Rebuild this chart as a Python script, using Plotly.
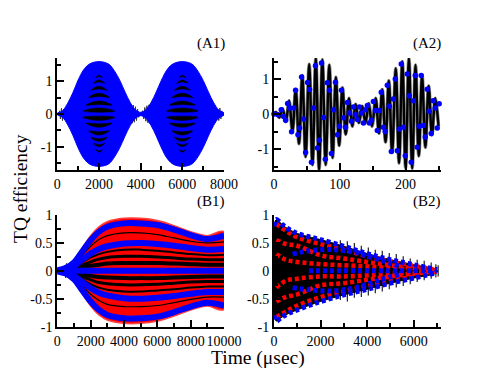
import plotly.graph_objects as go

# ---------------- panel A1 ----------------
a1_x = [0, 250, 500, 750, 1000, 1250, 1500, 1750, 2000, 2250, 2500, 2750, 3000, 3250, 3500, 3750, 4000,
        4250, 4500, 4750, 5000, 5250, 5500, 5750, 6000, 6250, 6500, 6750, 7000, 7250, 7500, 7750, 8000]
a1_upper = [0.03, 0.1, 0.33, 0.65, 1.03, 1.33, 1.5, 1.57, 1.59, 1.57, 1.5, 1.3, 1.02, 0.67, 0.35, 0.13, 0.05,
            0.13, 0.35, 0.67, 1.03, 1.33, 1.5, 1.57, 1.59, 1.57, 1.5, 1.3, 1.02, 0.67, 0.35, 0.12, 0.03]
a1_lower = [-0.03, -0.1, -0.33, -0.65, -1.03, -1.33, -1.5, -1.57, -1.59, -1.57, -1.5, -1.3, -1.02, -0.67, -0.35, -0.13, -0.05,
            -0.13, -0.35, -0.67, -1.03, -1.33, -1.5, -1.57, -1.59, -1.57, -1.5, -1.3, -1.02, -0.67, -0.35, -0.12, -0.03]
a1_noise_x = [100, 150, 200, 250, 300, 350, None,
              3550, 3600, 3650, 3700, 3750, 3800, 3850, 3900, 4100, 4150, 4200, 4250, 4300, 4350, 4400, 4450, None,
              7650, 7700, 7750, 7800, 7850, 7900]
a1_noise_y = [0.1, -0.15, 0.18, -0.2, 0.15, -0.1, None,
              0.3, -0.28, 0.27, -0.25, 0.22, -0.2, 0.15, -0.1, 0.1, -0.15, 0.2, -0.22, 0.25, -0.27, 0.28, -0.3, None,
              -0.1, 0.15, -0.2, 0.18, -0.15, 0.1]
a1_stripe_centre = [2000, 6000]
a1_stripe_level = [1.16, 1.0, 0.8, 0.58, 0.34, 0.12, -0.13, -0.35, -0.59, -0.79, -0.96, -1.14]
a1_stripe_half = [160, 280, 390, 500, 620, 760, 760, 620, 500, 390, 280, 160]
a1_stripe_thick = [0.04, 0.06, 0.08, 0.1, 0.11, 0.13, 0.13, 0.11, 0.1, 0.08, 0.06, 0.04]
a1_stripe_droop = [0.06, 0.07, 0.08, 0.08, 0.07, 0.03, 0.03, 0.07, 0.08, 0.08, 0.07, 0.06]

# ---------------- panel A2 ----------------
a2_line_x = [0, 3, 8, 13, 18, 23, 28, 33, 38, 43, 48, 53.5, 58.5, 63.5, 68.5, 73.5, 78.5, 84, 89, 94, 99,
             104, 109, 114, 119, 124, 129, 134, 139, 144, 149, 154.5, 159.5, 164.5, 169.5, 174.5, 179.5,
             185, 190, 195, 200, 205, 210, 215, 220, 225, 230, 235, 240, 245, 250]
a2_line_y = [0, 0.05, -0.1, 0.15, -0.22, 0.38, -0.5, 0.7, -0.85, 1.1, -1.22, 1.42, -1.45, 1.6, -1.6, 1.55,
             -1.45, 1.4, -1.25, 1.05, -0.9, 0.75, -0.58, 0.45, -0.35, 0.28, -0.25, 0.22, -0.25, 0.3, -0.35,
             0.45, -0.55, 0.7, -0.8, 0.95, -1.1, 1.3, -1.4, 1.5, -1.55, 1.6, -1.55, 1.4, -1.2, 1.1, -0.95,
             0.8, -0.6, 0.45, -0.35]
a2_dot_x = [0, 6, 11, 14.6, 17.7, 20.7, 23.7, 26.7, 29.8, 32.8,
            36.4, 38.9, 41.9, 44.9, 48, 51, 54, 57, 60, 63,
            66, 69, 72.2, 75.3, 78, 81, 84.3, 87.3, 90.4, 93.4,
            96.5, 99.5, 102.5, 105.6, 108.6, 111.6, 114.6, 117.7, 120.7, 123.7,
            126.8, 129.8, 132.8, 135.9, 138.9, 141.9, 144.9, 148, 151, 154,
            157, 160, 163, 166.2, 169, 172.2, 175.3, 178.3, 181.3, 184.3,
            187.4, 190.4, 193.4, 196.5, 199.5, 202.5, 205.6, 208.6, 211.6, 214.6,
            217.7, 220.7, 223.7, 226.8, 229.8, 232.8, 235.9, 238.9, 241.9, 245,
            248, 251]
a2_dot_y = [0, -0.02, 0.12, -0.07, -0.18, 0.3, 0.17, -0.51, 0.17, 0.68,
            -0.59, -0.4, 1.06, -0.14, -1.1, 0.9, 0.7, -1.38, 0.17, 1.38,
            -0.97, -0.75, 1.46, -0.1, -1.29, 0.89, 0.68, -1.13, 0.12, 0.91,
            -0.59, -0.35, 0.68, -0.11, -0.38, 0.33, 0.03, -0.21, 0.2, -0.02,
            -0.16, 0.2, 0.03, -0.26, 0.12, 0.24, -0.26, -0.18, 0.36, 0.1,
            -0.47, 0.1, 0.62, -0.38, -0.5, 0.82, 0.22, -1.07, 0.43, 1.0,
            -1.05, -0.43, 1.43, -0.38, -1.19, 1.14, 0.52, -1.38, 0.38, 1.1,
            -0.95, -0.35, 1.1, -0.33, -0.66, 0.71, 0.08, -0.56, 0.38, 0.17,
            -0.4, 0.29]

# ---------------- panel B1 ----------------
b1_x = [0, 500, 1000, 1500, 2000, 2500, 3000, 4000, 5000, 6000, 7000, 8000, 9000, 10000]
b1_red_up = [0.02, 0.07, 0.19, 0.41, 0.63, 0.79, 0.88, 0.94, 0.94, 0.9, 0.81, 0.7, 0.63, 0.7]
b1_red_lo = [-0.02, -0.07, -0.19, -0.41, -0.63, -0.79, -0.88, -0.94, -0.94, -0.9, -0.81, -0.7, -0.63, -0.69]
b1_blue_out_up = [0.01, 0.05, 0.15, 0.35, 0.55, 0.7, 0.79, 0.85, 0.85, 0.82, 0.74, 0.64, 0.57, 0.63]
b1_blue_out_lo = [-0.01, -0.05, -0.15, -0.35, -0.55, -0.7, -0.79, -0.85, -0.85, -0.82, -0.74, -0.64, -0.57, -0.62]
b1_blue_mid_up = [0.0, 0.03, 0.09, 0.2, 0.31, 0.39, 0.44, 0.49, 0.5, 0.48, 0.45, 0.41, 0.38, 0.39]
b1_blue_mid_lo = [0.0, -0.03, -0.09, -0.2, -0.31, -0.39, -0.44, -0.49, -0.5, -0.48, -0.45, -0.41, -0.38, -0.38]
b1_blue_centre = [0, 0, 0, 0, 0, 0, 0, 0, 0, 0, 0, 0, 0, 0]
b1_black = [
    [0, 0.04, 0.12, 0.28, 0.44, 0.56, 0.63, 0.68, 0.68, 0.65, 0.59, 0.53, 0.5, 0.52],
    [0, 0.02, 0.07, 0.15, 0.24, 0.3, 0.34, 0.38, 0.38, 0.36, 0.33, 0.3, 0.28, 0.29],
    [0, 0.01, 0.05, 0.1, 0.16, 0.21, 0.24, 0.26, 0.26, 0.25, 0.23, 0.21, 0.2, 0.2],
    [0, 0.01, 0.03, 0.06, 0.09, 0.11, 0.13, 0.14, 0.14, 0.14, 0.13, 0.12, 0.11, 0.11],
    [0, -0.01, -0.03, -0.06, -0.09, -0.11, -0.12, -0.13, -0.13, -0.13, -0.12, -0.11, -0.1, -0.1],
    [0, -0.01, -0.05, -0.1, -0.16, -0.21, -0.23, -0.25, -0.25, -0.24, -0.22, -0.2, -0.19, -0.19],
    [0, -0.02, -0.07, -0.15, -0.24, -0.3, -0.34, -0.37, -0.37, -0.35, -0.33, -0.3, -0.28, -0.28],
    [0, -0.04, -0.12, -0.27, -0.42, -0.53, -0.6, -0.64, -0.64, -0.62, -0.57, -0.51, -0.47, -0.47],
]
b1_black_width = [1.2, 2, 3, 4, 4, 3, 2, 1.2]
b1_noise_x = [350, 400, 450, 500, 550, 600, 650, 700, 750]
b1_noise_y = [0.05, -0.08, 0.1, -0.12, 0.13, -0.11, 0.09, -0.06, 0.04]

# ---------------- panel B2 ----------------
b2_x = [0, 100, 300, 500, 750, 1000, 1500, 2000, 3000, 4000, 5000, 6000, 7000]
b2_blue_up = [0.8, 0.92, 0.85, 0.78, 0.72, 0.67, 0.61, 0.56, 0.44, 0.31, 0.2, 0.11, 0.02]
b2_blue_lo = [-0.8, -0.9, -0.84, -0.79, -0.74, -0.7, -0.62, -0.55, -0.43, -0.33, -0.22, -0.13, -0.03]
# vertical black spikes poking out of the cone
b2_spike_x = [2850, 3150, 3450, 3750, 4050, 4350, 4650, 4950, 5250, 5550, 5850, 6150, 6450, 6750, 6950, 7050]
b2_spike_top = [0.55, 0.53, 0.5, 0.45, 0.42, 0.38, 0.36, 0.32, 0.3, 0.26, 0.22, 0.2, 0.18, 0.15, 0.12, 0.1]
b2_spike_bot = [-0.52, -0.55, -0.48, -0.47, -0.44, -0.4, -0.37, -0.33, -0.3, -0.27, -0.24, -0.2, -0.17, -0.14, -0.12, -0.1]
b2_track_x = [100, 500, 1000, 2000, 3000, 4000, 5000, 6000, 7000]
b2_red_tracks = [
    [0.84, 0.72, 0.6, 0.48, 0.38, 0.26, 0.17, 0.09, 0.02],
    [0.55, 0.48, 0.45, 0.28, 0.22, 0.16, 0.1, 0.05, 0.01],
    [0.3, 0.2, 0.16, 0.12, 0.1, 0.08, 0.05, 0.02, 0.0],
    [-0.3, -0.18, -0.14, -0.1, -0.1, -0.08, -0.05, -0.02, 0.0],
    [-0.55, -0.47, -0.42, -0.26, -0.22, -0.16, -0.1, -0.05, -0.01],
    [-0.83, -0.73, -0.62, -0.47, -0.37, -0.27, -0.18, -0.1, -0.02],
]
b2_lens_x = [800, 1500, 2500, 3500, 4500, 5500]
b2_lens_up = [0.3, 0.36, 0.38, 0.33, 0.2, 0.07]
b2_lens_lo = [-0.3, -0.34, -0.36, -0.3, -0.17, -0.05]
b2_centre_x = [1500, 7000]
b2_centre_y = [0.0, 0.0]

# ---------------- ticks / labels ----------------
a1_xticks, a1_xtext = [0, 2000, 4000, 6000, 8000], ["0", "2000", "4000", "6000", "8000"]
a2_xticks, a2_xtext = [0, 100, 200], ["0", "100", "200"]
a_yticks, a_ytext = [-1, 0, 1], ["-1", "0", "1"]
b1_xticks, b1_xtext = [0, 2000, 4000, 6000, 8000, 10000], ["0", "2000", "4000", "6000", "8000", "10000"]
b2_xticks, b2_xtext = [0, 2000, 4000, 6000], ["0", "2000", "4000", "6000"]
b_yticks, b_ytext = [-1, -0.5, 0, 0.5, 1], ["-1", "-0.5", "0", "0.5", "1"]

BLUE = "#0000ff"
RED = "#ff0000"
FONT = "Liberation Serif"

# page body has an 8px margin, so the figure is 8px smaller and everything is placed in page pixels
W, H, OFF = 490, 377, 8


def fx(px):
    return (px - OFF) / W


def fy(py):
    return 1 - (py - OFF) / H


fig = go.Figure()

# A1
fig.add_trace(go.Scatter(x=a1_noise_x, y=a1_noise_y, mode="lines", line=dict(color="#333333", width=1),
                         xaxis="x", yaxis="y"))
fig.add_trace(go.Scatter(x=a1_x + a1_x[::-1], y=a1_upper + a1_lower[::-1], fill="toself", fillcolor=BLUE,
                         mode="lines", line=dict(color=BLUE, width=1, shape="spline"), xaxis="x", yaxis="y"))
for c in a1_stripe_centre:
    for lv, h, t, d in zip(a1_stripe_level, a1_stripe_half, a1_stripe_thick, a1_stripe_droop):
        s = 1 if lv > 0 else -1
        end = lv - s * d
        midq = lv - s * d * 0.3
        xs = [c - h, c - h / 2, c, c + h / 2, c + h, c + h / 2, c, c - h / 2, c - h]
        ys = [end, midq + t * 0.4, lv + t / 2, midq + t * 0.4, end, midq - t * 0.4, lv - t / 2, midq - t * 0.4, end]
        fig.add_trace(go.Scatter(x=xs, y=ys, fill="toself", fillcolor="black", mode="lines",
                                 line=dict(color="black", width=0.5, shape="spline"), xaxis="x", yaxis="y"))

# A2
fig.add_trace(go.Scatter(x=a2_line_x, y=a2_line_y, mode="lines", line=dict(color="#888888", width=3.6, shape="spline"),
                         xaxis="x2", yaxis="y2"))
fig.add_trace(go.Scatter(x=a2_line_x, y=a2_line_y, mode="lines", line=dict(color="black", width=2.4, shape="spline"),
                         xaxis="x2", yaxis="y2"))
fig.add_trace(go.Scatter(x=a2_dot_x, y=a2_dot_y, mode="markers", marker=dict(color=BLUE, size=5.5),
                         xaxis="x2", yaxis="y2", cliponaxis=False))

# B1
fig.add_trace(go.Scatter(x=b1_noise_x, y=b1_noise_y, mode="lines", line=dict(color="black", width=1),
                         xaxis="x3", yaxis="y3"))
fig.add_trace(go.Scatter(x=b1_x + b1_x[::-1], y=b1_red_up + b1_red_lo[::-1], fill="toself", fillcolor=RED,
                         mode="lines", line=dict(color="#ff4040", width=1.5, shape="spline"), xaxis="x3", yaxis="y3"))
for ys, w in zip(b1_black, b1_black_width):
    fig.add_trace(go.Scatter(x=b1_x, y=ys, mode="lines", line=dict(color="black", width=w, shape="spline"),
                             xaxis="x3", yaxis="y3"))
for ys in [b1_blue_out_up, b1_blue_mid_up, b1_blue_centre, b1_blue_mid_lo, b1_blue_out_lo]:
    fig.add_trace(go.Scatter(x=b1_x, y=ys, mode="lines", line=dict(color=BLUE, width=6, shape="spline"),
                             xaxis="x3", yaxis="y3"))

# B2
spike_x, spike_y = [], []
for sx, top, bot in zip(b2_spike_x, b2_spike_top, b2_spike_bot):
    spike_x += [sx, sx, None]
    spike_y += [bot, top, None]
fig.add_trace(go.Scatter(x=spike_x, y=spike_y, mode="lines", line=dict(color="#222222", width=1.2),
                         xaxis="x4", yaxis="y4"))
fig.add_trace(go.Scatter(x=b2_x + b2_x[::-1], y=b2_blue_up + b2_blue_lo[::-1], fill="toself", fillcolor="black",
                         mode="lines", line=dict(color="black", width=1, shape="spline"), xaxis="x4", yaxis="y4"))
for ys in b2_red_tracks:
    fig.add_trace(go.Scatter(x=b2_track_x, y=ys, mode="lines",
                             line=dict(color=RED, width=4.5, dash="4px,3px", shape="spline"), xaxis="x4", yaxis="y4"))
for xs, ys in [(b2_x, b2_blue_up), (b2_x, b2_blue_lo), (b2_lens_x, b2_lens_up), (b2_lens_x, b2_lens_lo),
               (b2_centre_x, b2_centre_y)]:
    fig.add_trace(go.Scatter(x=xs, y=ys, mode="lines",
                             line=dict(color=BLUE, width=5, dash="4px,3px", shape="spline"), xaxis="x4", yaxis="y4"))


def axis(domain, rng, tickvals, ticktext, minor_dtick, anchor):
    return dict(domain=domain, range=rng, anchor=anchor, showline=True, linecolor="black", linewidth=2,
                ticks="inside", ticklen=7, tickwidth=1.5, tickcolor="black", showgrid=False, zeroline=False,
                tickmode="array", tickvals=tickvals, ticktext=ticktext, tickangle=0, automargin=False,
                tickfont=dict(family=FONT, size=14, color="black"),
                minor=dict(ticks="inside", ticklen=4, tickwidth=1.5, tickcolor="black", dtick=minor_dtick,
                           tick0=0, showgrid=False))


xa = [fx(57.3), fx(224)]
xb = [fx(274), fx(440.5)]
ya = [fy(170), fy(58)]
yb = [fy(326.7), fy(215)]

fig.update_layout(
    width=W, height=H, margin=dict(l=0, r=0, t=0, b=0), autosize=False,
    paper_bgcolor="white", plot_bgcolor="white", showlegend=False,
    xaxis=axis(xa, [0, 8000], a1_xticks, a1_xtext, 1000, "y"),
    yaxis=axis(ya, [-1.7, 1.7], a_yticks, a_ytext, 0.5, "x"),
    xaxis2=axis(xb, [0, 253], a2_xticks, a2_xtext, 50, "y2"),
    yaxis2=axis(ya, [-1.6, 1.6], a_yticks, a_ytext, 0.5, "x2"),
    xaxis3=axis(xa, [0, 10000], b1_xticks, b1_xtext, 1000, "y3"),
    yaxis3=axis(yb, [-1, 1], b_yticks, b_ytext, 0.25, "x3"),
    xaxis4=axis(xb, [0, 7150], b2_xticks, b2_xtext, 1000, "y4"),
    yaxis4=axis(yb, [-1, 1], b_yticks, b_ytext, 0.25, "x4"),
)

labels = [("(A1)", 227, 43), ("(A2)", 443, 43), ("(B1)", 227, 201), ("(B2)", 443, 201)]
for txt, x, y in labels:
    fig.add_annotation(text=txt, x=fx(x), y=fy(y), xref="paper", yref="paper", xanchor="right", yanchor="middle",
                       showarrow=False, font=dict(family=FONT, size=15, color="black"))
fig.add_annotation(text="TQ efficiency", x=fx(21), y=fy(189), xref="paper", yref="paper", textangle=-90,
                   xanchor="center", yanchor="middle",
                   showarrow=False, font=dict(family=FONT, size=19.5, color="black"))
fig.add_annotation(text="Time (\u03bcsec)", x=fx(258), y=fy(358), xref="paper", yref="paper",
                   xanchor="center", yanchor="middle",
                   showarrow=False, font=dict(family=FONT, size=19.5, color="black"))

fig.write_html("out.html")
